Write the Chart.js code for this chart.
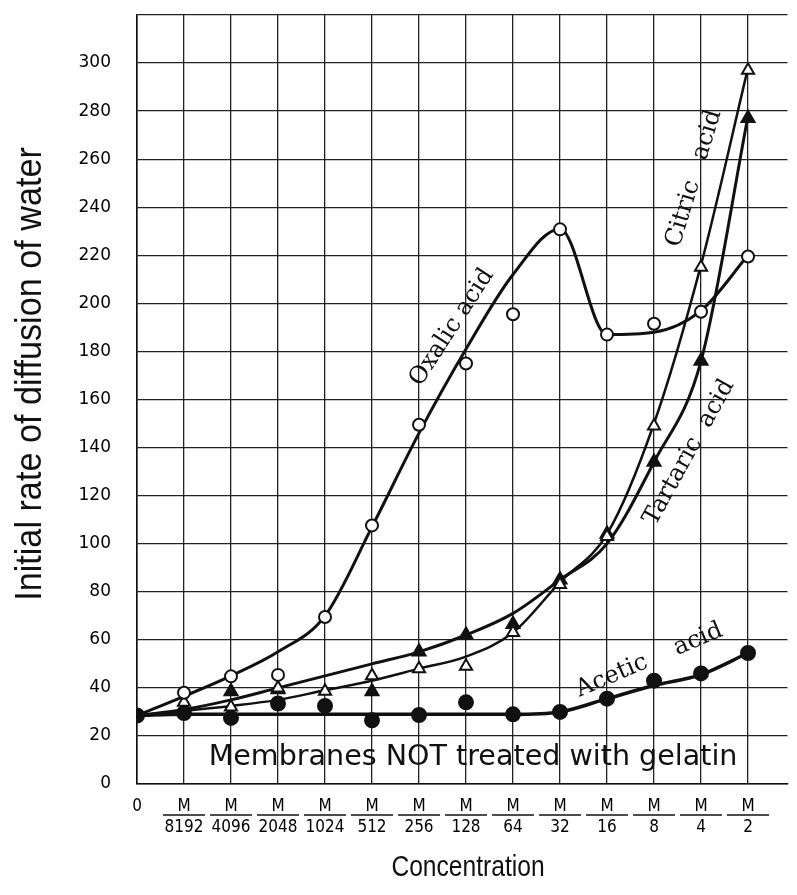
<!DOCTYPE html>
<html>
<head>
<meta charset="utf-8">
<title>Initial rate of diffusion of water</title>
<script src="https://cdn.jsdelivr.net/npm/chart.js@4.4.1/dist/chart.umd.min.js"></script>
<style>
  html, body { margin: 0; padding: 0; background: #fff; }
  canvas { display: block; }
</style>
</head>
<body>
<canvas id="chart" width="797" height="895"></canvas>
<script>
// concentration steps along x (M / n); the first one is plain 0
const concentrations = ['0', '8192', '4096', '2048', '1024', '512', '256', '128', '64', '32', '16', '8', '4', '2'];

const oxalicPoints = [null, 38, 44.8, 45.4, 69.5, 107.6, 149.5, 175, 195.5, 230.8, 187, 191.5, 196.5, 219.5];
const oxalicCurve = [28.5, 36.5, 45, 55, 70, 107, 146, 181, 212, 231, 187, 188, 197, 220];
const citricPoints = [null, 34, 32, 40, 38.6, 45, 48, 49, 63, 83, 103, 149, 215, 297];
const citricCurve = [28.5, 30.5, 32.5, 35, 39, 43, 48, 53, 63, 84, 104, 150, 216, 298];
const tartaricPoints = [null, null, 38.5, 39.3, null, 38.5, 55, 62, 66.5, 85, 104, 134, 176, 277];
const tartaricCurve = [28.5, 31, 35, 40, 45, 50, 55, 62, 71, 85, 100, 134, 176, 278];
const aceticPoints = [28.5, 29.5, 27.5, 33.5, 32.5, 26.5, 28.7, 34, 29, 30, 35.5, 43, 46, 54.5];
const aceticCurve = [28.5, 29, 29, 29, 29, 29, 29, 29, 29, 30, 35.5, 41, 45.5, 54.5];

// labels written on the plot, placed in data units
const notes = [
  { text: 'Oxalic acid', x: 6.7, y: 190, angle: -57 },
  { text: 'Citric   acid', x: 11.85, y: 252, angle: -73 },
  { text: 'Tartaric  acid', x: 11.75, y: 138, angle: -61 },
  { text: 'Acetic    acid', x: 10.9, y: 51.5, angle: -23 }
];
const footnote = 'Membranes NOT treated with gelatin';
const yTitle = 'Initial rate of diffusion of water';
const xTitle = 'Concentration';

const ink = '#111';
const noteFont = "24px 'DejaVu Serif', serif";

function xy(values) {
  return values.map((v, i) => ({ x: i, y: v }));
}

function curve(values, width) {
  return {
    data: xy(values),
    borderColor: ink,
    borderWidth: width,
    pointRadius: 0,
    fill: false,
    cubicInterpolationMode: 'monotone',
    order: 2
  };
}

function markers(values, style, radius, filled) {
  return {
    data: xy(values),
    showLine: false,
    pointStyle: style,
    pointRadius: radius,
    pointBorderWidth: 2,
    pointBorderColor: ink,
    pointBackgroundColor: filled ? ink : '#fff',
    order: 1
  };
}

function drawText(ctx, text, x, y, angle, font, scaleX) {
  ctx.save();
  ctx.translate(x, y);
  ctx.rotate(angle * Math.PI / 180);
  ctx.scale(scaleX || 1, 1);
  ctx.font = font;
  ctx.fillStyle = ink;
  ctx.textAlign = 'center';
  ctx.textBaseline = 'middle';
  ctx.fillText(text, 0, 0);
  ctx.restore();
}

const paperNotes = {
  id: 'paperNotes',
  afterDraw(chart) {
    const { ctx, scales: { x, y } } = chart;
    // fraction bars under the M
    ctx.save();
    ctx.strokeStyle = ink;
    ctx.lineWidth = 1.5;
    x.ticks.forEach((t) => {
      if (t.value === 0) return;
      const px = x.getPixelForValue(t.value);
      ctx.beginPath();
      ctx.moveTo(px - 21, y.bottom + 31);
      ctx.lineTo(px + 21, y.bottom + 31);
      ctx.stroke();
    });
    ctx.restore();

    notes.forEach((n) => {
      drawText(ctx, n.text, x.getPixelForValue(n.x), y.getPixelForValue(n.y), n.angle, noteFont);
    });
    drawText(ctx, footnote, x.getPixelForValue(7.15), y.getPixelForValue(10.8), 0, "28px 'DejaVu Sans', sans-serif", 1.02);
    drawText(ctx, yTitle, 31, 374, -90, "36px 'Liberation Sans', sans-serif", 0.95);
    drawText(ctx, xTitle, 468, 868, 0, "30px 'Liberation Sans', sans-serif", 0.82);
  }
};

new Chart(document.getElementById('chart'), {
  type: 'line',
  data: {
    datasets: [
      curve(oxalicCurve, 3),
      curve(citricCurve, 2.5),
      curve(tartaricCurve, 3),
      curve(aceticCurve, 3.5),
      markers(oxalicPoints, 'circle', 6, false),
      markers(citricPoints, 'triangle', 7, false),
      markers(tartaricPoints, 'triangle', 7.5, true),
      markers(aceticPoints, 'circle', 7, true)
    ]
  },
  options: {
    responsive: false,
    devicePixelRatio: 1,
    animation: false,
    layout: { padding: { top: 15, right: 0, bottom: 0, left: 0 } },
    plugins: { legend: { display: false }, tooltip: { enabled: false } },
    scales: {
      x: {
        type: 'linear',
        min: 0,
        max: 13.84,
        afterBuildTicks: (scale) => { scale.ticks = concentrations.map((_, i) => ({ value: i })); },
        afterFit: (scale) => {
          scale.height = 111;
          scale.paddingLeft = 0;
          scale.paddingRight = 0;
        },
        grid: { color: '#222', lineWidth: 1.3, drawTicks: false },
        border: { color: ink, width: 1.6 },
        ticks: {
          autoSkip: false,
          maxRotation: 0,
          padding: 12,
          color: '#000',
          font: { family: "'Liberation Sans Narrow', 'DejaVu Sans Condensed', 'Liberation Sans', sans-serif", size: 17, lineHeight: 1.25 },
          callback: (value) => (value === 0 ? '0' : ['M', concentrations[value]])
        }
      },
      y: {
        min: 0,
        max: 320,
        afterFit: (scale) => {
          scale.width = 137;
          scale.paddingTop = 0;
          scale.paddingBottom = 0;
        },
        grid: { color: '#222', lineWidth: 1.3, drawTicks: false },
        border: { color: ink, width: 1.6 },
        ticks: {
          stepSize: 20,
          padding: 26,
          color: '#000',
          font: { family: "'DejaVu Sans', sans-serif", size: 17 },
          callback: (value) => (value === 320 ? '' : value)
        }
      }
    }
  },
  plugins: [paperNotes]
});
</script>
</body>
</html>
